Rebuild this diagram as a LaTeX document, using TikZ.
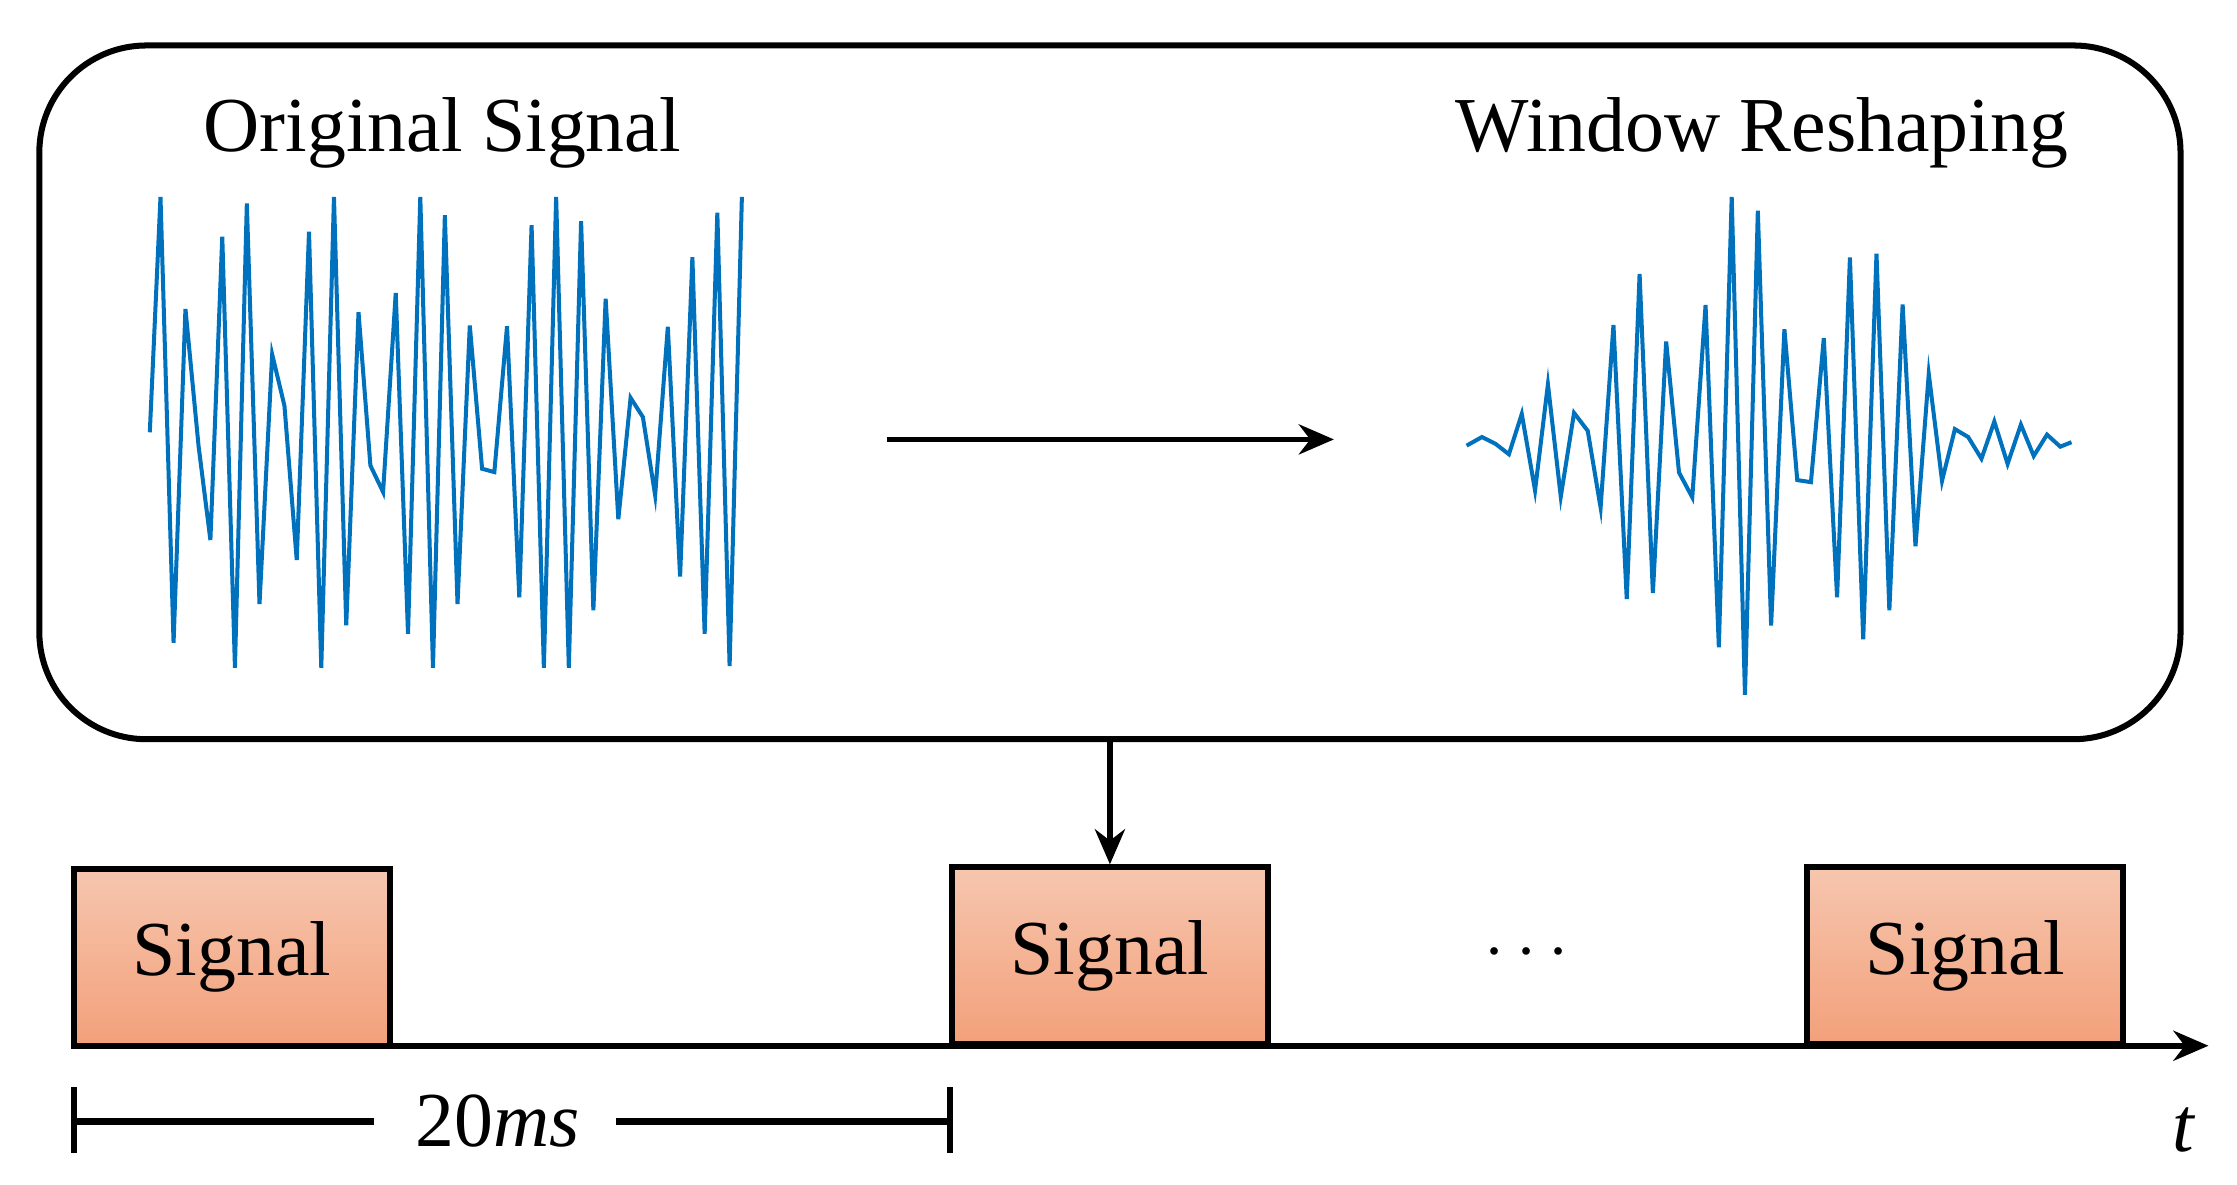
\documentclass[tikz,border=0pt]{standalone}
\usepackage{fontspec}
\setmainfont{Liberation Serif}
\usetikzlibrary{arrows.meta}
\definecolor{wave}{HTML}{0072BD}
\definecolor{boxtop}{HTML}{F6C6AF}
\definecolor{boxbot}{HTML}{F3A07A}
\begin{document}
\begin{tikzpicture}[x=0.01cm,y=-0.01cm,
  txt/.style={font=\fontsize{15.5}{18}\selectfont,inner sep=0pt},
  sig/.style={draw=black,line width=1.2pt,top color=boxtop,bottom color=boxbot,minimum width=2.21cm,minimum height=1.24cm,inner sep=0pt,font=\fontsize{15.5}{18}\selectfont},
  arr/.style={line width=1.1pt,-{Stealth[length=7pt,width=6pt]}},
  wv/.style={draw=wave,line width=0.8pt,line join=miter}]
\useasboundingbox (0,0) rectangle (1568,830);
\node[draw,line width=1.2pt,rounded corners=0.75cm,minimum width=15cm,minimum height=4.86cm,inner sep=0pt] (panel) at (778,275) {};
\node[txt] (orig) at (310,93) {Original Signal};
\node[txt] (resh) at (1235,93) {Window Reshaping};
\coordinate (a1) at (622,308);
\coordinate (a2) at (935,308);
\draw[arr] (a1) -- (a2);
\begin{scope}[shift={(98.06,126.38)},xscale=0.2776,yscale=0.2324]
\draw[wv] plot coordinates {(25,760) (52,50) (85,1395) (115,388) (148,800) (178,1085) (208,170) (240,1470) (270,70) (302,1278) (334,525) (365,680) (396,1145) (427,155) (458,1470) (490,50) (521,1342) (552,398) (582,860) (614,940) (646,340) (677,1368) (708,50) (740,1470) (770,105) (802,1278) (833,438) (864,870) (895,880) (927,440) (958,1258) (989,135) (1020,1470) (1051,50) (1083,1470) (1114,123) (1145,1297) (1176,357) (1208,1022) (1239,656) (1270,714) (1301,950) (1333,442) (1364,1195) (1395,232) (1426,1368) (1458,98) (1489,1465) (1520,50)};
\end{scope}
\begin{scope}[shift={(1014.91,126.41)},xscale=0.2908,yscale=0.2415]
\draw[wv] plot coordinates {(45,770) (82,745) (115,765) (147,795) (178,678) (210,900) (241,592) (272,918) (304,675) (337,727) (368,950) (399,420) (431,1215) (462,272) (494,1198) (526,468) (557,848) (589,920) (621,362) (653,1355) (684,48) (716,1493) (747,88) (779,1292) (811,432) (842,870) (875,876) (906,458) (938,1210) (969,224) (1001,1332) (1033,213) (1064,1248) (1096,360) (1127,1062) (1159,562) (1191,872) (1222,722) (1254,745) (1286,808) (1317,700) (1349,823) (1381,709) (1412,800) (1444,738) (1476,773) (1503,760)};
\end{scope}
\node[sig] (s1) at (162.5,671) {Signal};
\node[sig] (s2) at (778,670) {Signal};
\node[sig] (s3) at (1377.5,670) {Signal};
\draw[arr] (panel.south -| s2) -- (s2.north);
\node[txt] (dots) at (1070,668) {$\cdots$};
\coordinate (ax0) at (52,733);
\coordinate (ax1) at (1548,733);
\draw[arr] (ax0) -- (ax1);
\node[txt] (t) at (1531,792) {\textit{t}};
\coordinate (b0t) at (52,762); \coordinate (b0b) at (52,808);
\coordinate (b1t) at (666,762); \coordinate (b1b) at (666,808);
\draw[line width=1.3pt] (b0t) -- (b0b);
\draw[line width=1.3pt] (b1t) -- (b1b);
\node[txt] (ms) at (349,786) {20\textit{ms}};
\coordinate (l0) at (52,786); \coordinate (l1) at (262,786);
\coordinate (r0) at (432,786); \coordinate (r1) at (666,786);
\draw[line width=1.3pt] (l0) -- (l1);
\draw[line width=1.3pt] (r0) -- (r1);
\end{tikzpicture}
\end{document}
